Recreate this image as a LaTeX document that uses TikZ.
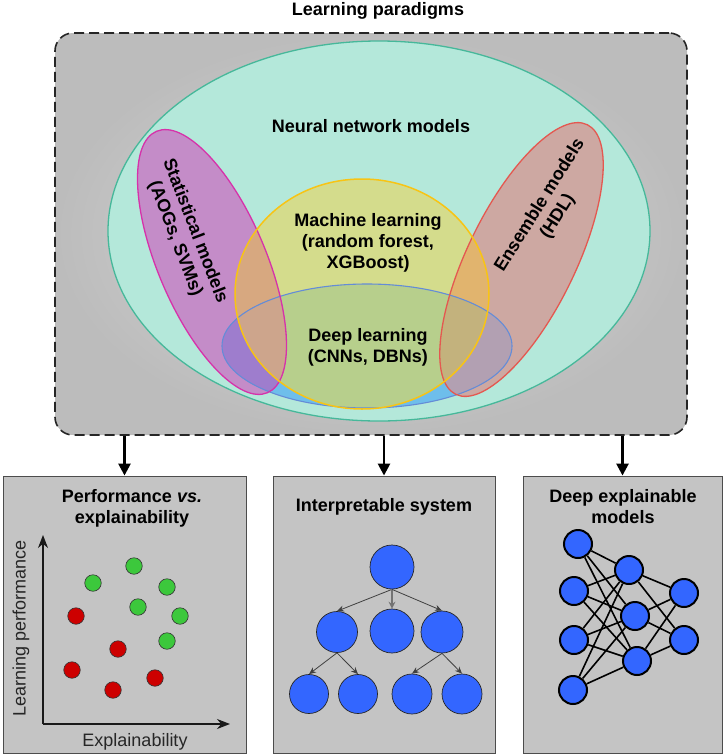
\documentclass[tikz,border=0pt]{standalone}
\usepackage{fontspec}
\setmainfont{Liberation Sans}
\usetikzlibrary{arrows.meta,shapes.geometric}
\definecolor{bgin}{RGB}{218,218,218}
\definecolor{bgout}{RGB}{188,188,188}
\definecolor{panelgray}{RGB}{196,196,196}
\definecolor{tealfill}{RGB}{180,232,218}
\definecolor{tealline}{RGB}{70,184,154}
\definecolor{blueonly}{RGB}{110,190,235}
\definecolor{blueline}{RGB}{100,140,215}
\definecolor{yelonly}{RGB}{212,220,140}
\definecolor{yelline}{RGB}{248,196,20}
\definecolor{YB}{RGB}{183,207,140}
\definecolor{puronly}{RGB}{196,140,200}
\definecolor{purline}{RGB}{214,50,170}
\definecolor{PY}{RGB}{215,168,128}
\definecolor{PB}{RGB}{158,125,205}
\definecolor{PYB}{RGB}{205,165,140}
\definecolor{redonly}{RGB}{205,168,162}
\definecolor{redline}{RGB}{228,88,80}
\definecolor{RY}{RGB}{225,180,110}
\definecolor{RB}{RGB}{178,160,178}
\definecolor{RYB}{RGB}{195,178,125}
\definecolor{dotgreen}{RGB}{60,200,60}
\definecolor{dotred}{RGB}{205,0,0}
\definecolor{nodeblue}{RGB}{51,102,255}
\def\ETeal{(379,231) ellipse [x radius=271pt, y radius=190pt]}
\def\EYel{(362,294) ellipse [x radius=127pt, y radius=115pt]}
\def\EBlue{(367,346) ellipse [x radius=145pt, y radius=62pt]}
\def\EPur{[rotate around={-67:(212,262)}] (212,262) ellipse [x radius=142pt, y radius=54pt]}
\def\ERed{[rotate around={64:(521.5,259.5)}] (521.5,259.5) ellipse [x radius=150pt, y radius=54pt]}
\begin{document}
\begin{tikzpicture}[x=1pt,y=-1pt,
  txt/.style={font=\bfseries\fontsize{18}{21}\selectfont, align=center, inner sep=0pt, text=black},
  ntxt/.style={font=\fontsize{18}{21}\selectfont, inner sep=0pt, text=black!85},
  paranode/.style={draw=black!85, dash pattern=on 10pt off 5pt, line width=1.6pt,
    rounded corners=18pt, minimum width=632pt, minimum height=402pt, inner sep=0pt,
    shade, inner color=bgin, outer color=bgout},
  panel/.style={draw=black!70, line width=0.9pt, fill=panelgray, minimum width=#1,
    minimum height=277pt, inner sep=0pt},
  bigarrow/.style={line width=2.6pt, -{Triangle[length=12pt,width=12pt]}},
  axisarrow/.style={line width=1.3pt, black!90, -{Stealth[length=13pt,width=10pt]}},
  dotg/.style={circle, draw=black!80, line width=0.6pt, fill=dotgreen, minimum size=16.5pt, inner sep=0pt},
  dotr/.style={circle, draw=black!80, line width=0.6pt, fill=dotred, minimum size=16.5pt, inner sep=0pt},
  tnode/.style={circle, draw=black!85, line width=0.7pt, fill=nodeblue, minimum size=#1, inner sep=0pt},
  tarrow/.style={line width=0.8pt, black!75, -{Stealth[length=7pt,width=6pt]}},
  tarrowthick/.style={line width=2pt, black!55, -{Stealth[length=7pt,width=7pt]}},
  nnode/.style={circle, draw=black, line width=2pt, fill=nodeblue, minimum size=28pt, inner sep=0pt},
  nedge/.style={line width=1.6pt, black}
]
\useasboundingbox (0,0) rectangle (725,756);

% ---------- top panel ----------
\node[paranode] (para) at (371,234) {};
\fill[tealfill] \ETeal;
\fill[blueonly] \EBlue;
\fill[yelonly] \EYel;
\begin{scope}\clip \EYel; \fill[YB] \EBlue; \end{scope}
\fill[puronly] \EPur;
\begin{scope}
  \clip \EPur;
  \fill[PY] \EYel;
  \fill[PB] \EBlue;
  \clip \EYel;
  \fill[PYB] \EBlue;
\end{scope}
\fill[redonly] \ERed;
\begin{scope}
  \clip \ERed;
  \fill[RY] \EYel;
  \fill[RB] \EBlue;
  \clip \EYel;
  \fill[RYB] \EBlue;
\end{scope}
\draw[tealline, line width=1.3pt] \ETeal;
\draw[blueline, line width=1.1pt] \EBlue;
\draw[purline, line width=1.3pt] \EPur;
\draw[redline, line width=1.3pt] \ERed;
\draw[yelline, line width=1.5pt] \EYel;

\node[txt] (title) at (378,11) {Learning paradigms};
\node[txt] (nn) at (371,126) {Neural network models};
\node[txt] (ml) at (368,243) {Machine learning\\(random forest,\\XGBoost)};
\node[txt] (dl) at (368,347.5) {Deep learning\\(CNNs, DBNs)};
\node[txt, rotate=-69] (stat) at (185,235) {Statistical models\\(AOGs, SVMs)};
\node[txt, rotate=58] (ens) at (549,211) {Ensemble models\\(HDL)};

% ---------- bottom panels ----------
\node[panel=243pt] (p1) at (124.5,614.5) {};
\node[panel=222pt] (p2) at (384,614.5) {};
\node[panel=199pt] (p3) at (622.5,614.5) {};
\draw[bigarrow] (para.south -| p1.north) -- (p1.north);
\draw[bigarrow] (para.south -| p2.north) -- (p2.north);
\draw[bigarrow] (para.south -| p3.north) -- (p3.north);

% panel 1
\node[txt] (t1) at (132,508) {Performance \textit{vs.}\\explainability};
\coordinate (orig) at (43,724);
\coordinate (ytip) at (43,535);
\coordinate (xtip) at (230,724);
\draw[axisarrow] (orig) -- (ytip);
\draw[axisarrow] (orig) -- (xtip);
\node[ntxt, rotate=90] (ylab) at (21,628) {Learning performance};
\node[ntxt] (xlab) at (135,742) {Explainability};
\foreach \n/\x/\y in {g1/134/566, g2/93/583, g3/167/587, g4/138/607, g5/180/616, g6/167/641}
  \node[dotg] (\n) at (\x,\y) {};
\foreach \n/\x/\y in {r1/76/616, r2/118/649, r3/72/670, r4/155/678, r5/113/690}
  \node[dotr] (\n) at (\x,\y) {};

% panel 2
\node[txt] (t2) at (384,507) {Interpretable system};
\node[tnode=44pt] (root) at (392,567) {};
\node[tnode=41pt] (m1) at (337,632) {};
\node[tnode=44pt] (m2) at (392,631) {};
\node[tnode=42pt] (m3) at (442,632) {};
\node[tnode=39pt] (l1) at (309,694) {};
\node[tnode=39pt] (l2) at (358,694) {};
\node[tnode=40pt] (l3) at (412,694) {};
\node[tnode=40pt] (l4) at (462,694) {};
\draw[tarrow] (root.south) -- (m1.north);
\draw[tarrowthick] (root.south) -- (m2.north);
\draw[tarrow] (root.south) -- (m3.north);
\draw[tarrow] (m1.south) -- (l1.north);
\draw[tarrow] (m1.south) -- (l2.north);
\draw[tarrow] (m3.south) -- (l3.north);
\draw[tarrow] (m3.south) -- (l4.north);

% panel 3
\node[txt] (t3) at (623,507) {Deep explainable\\models};
\node[nnode] (a1) at (578,544) {};
\node[nnode] (a2) at (574,591) {};
\node[nnode] (a3) at (574,640) {};
\node[nnode] (a4) at (573,690) {};
\node[nnode] (b1) at (629,570) {};
\node[nnode] (b2) at (635,616) {};
\node[nnode] (b3) at (637,661) {};
\node[nnode] (c1) at (684,593) {};
\node[nnode] (c2) at (684,640) {};
\foreach \a in {a1,a2,a3,a4}
  \foreach \b in {b1,b2,b3}
    \draw[nedge] (\a) -- (\b);
\foreach \b in {b1,b2,b3}
  \foreach \c in {c1,c2}
    \draw[nedge] (\b) -- (\c);
\end{tikzpicture}
\end{document}
